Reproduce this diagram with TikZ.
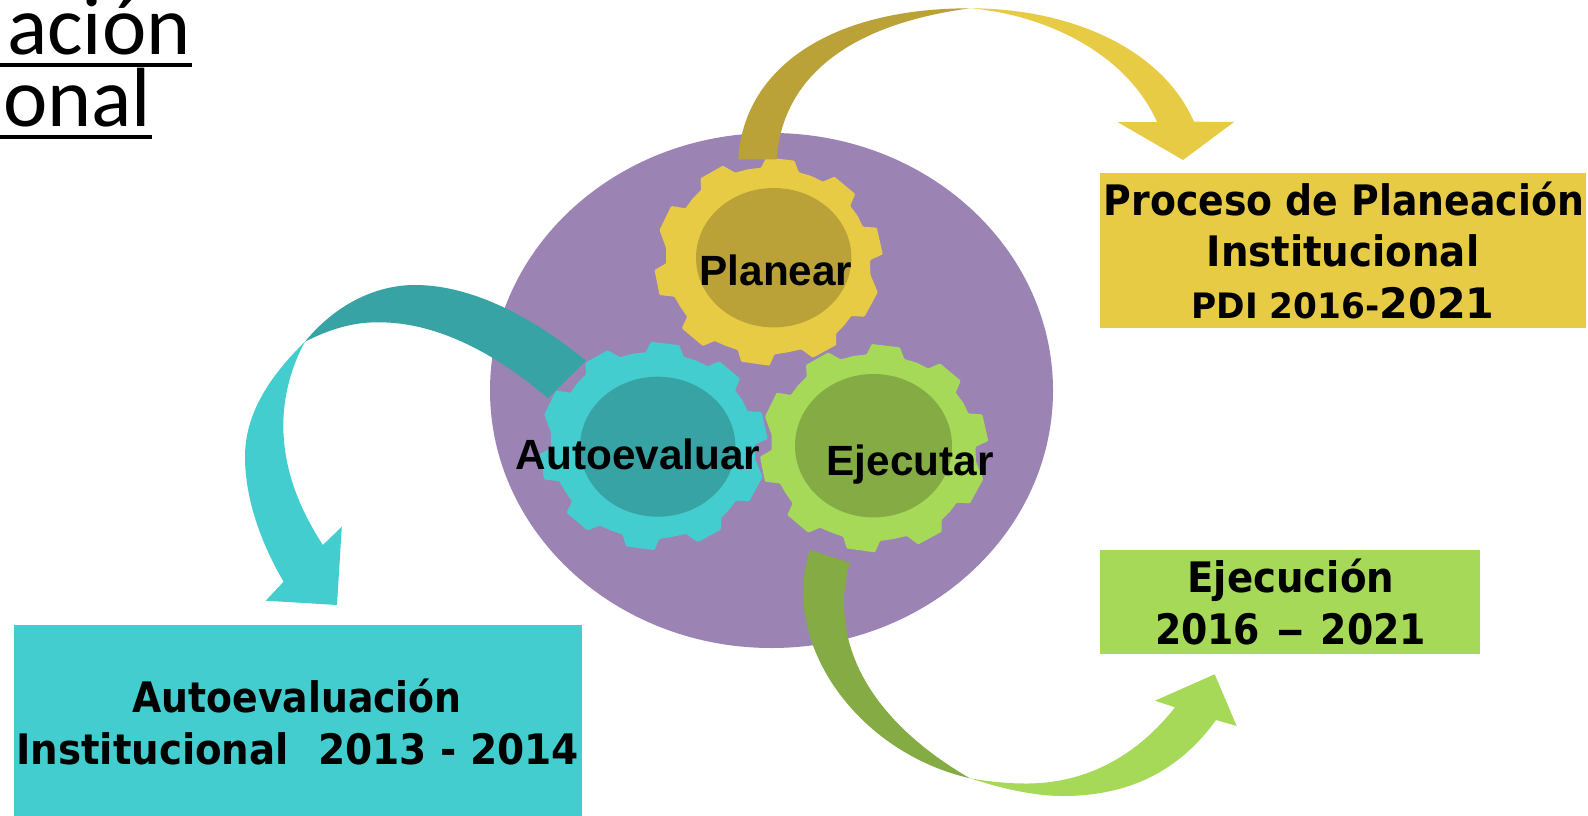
\documentclass[tikz,border=0pt]{standalone}
\usepackage{graphicx}
\usepackage{fontspec}
\setmainfont{Liberation Sans}
\newfontfamily\tahfont{DejaVu Sans Condensed}
\newfontfamily\calfont{Carlito}
\definecolor{purp}{HTML}{9B84B3}
\definecolor{yel}{HTML}{E8CB44}
\definecolor{dyel}{HTML}{BAA238}
\definecolor{tea}{HTML}{44CDCE}
\definecolor{dtea}{HTML}{38A3A5}
\definecolor{gre}{HTML}{A5D957}
\definecolor{dgre}{HTML}{85AB45}
\tikzset{
  gearlabel/.style={font=\fontsize{42.3}{42.3}\selectfont\bfseries,inner sep=0pt,anchor=base,text=black},
  boxtext/.style={font=\tahfont\fontsize{42}{51}\selectfont\bfseries,inner sep=0pt,anchor=base,text=black},
  headtext/.style={font=\calfont\fontsize{84}{84}\selectfont,inner sep=0pt,anchor=base west,text=black},
}
% \gearshape{cx}{cy}{colour}
\newcommand{\gearshape}[3]{%
  \fill[#3,shift={(#1,#2)},rounded corners=1pt]
  (-7.3,-93.3) -- (-2.3,-103.7) -- (26,-100.3) -- (30.3,-88.7) -- (42.7,-85)
  -- (54.3,-79.3) -- (66,-84.3) -- (86.7,-67) -- (81.7,-55) -- (89.3,-45)
  -- (94.3,-34.3) -- (108.3,-33.3) -- (114.3,-6.7) -- (101.7,-1) -- (101.7,6.7)
  -- (102,14) -- (109.3,31.3) -- (96,55.7) -- (82.7,55) -- (76,64)
  -- (67.7,72.3) -- (67.7,84) -- (44.3,96.7) -- (32.7,88.3) -- (19.3,91.3)
  -- (6,93.3) -- (1,104.7) -- (-27.3,100.7) -- (-30.7,89) -- (-42.3,85)
  -- (-54,80) -- (-65.7,85) -- (-86.7,67.3) -- (-81.3,55.7) -- (-88.3,45.7)
  -- (-94,35.7) -- (-109,34) -- (-114,9) -- (-102.3,2.3) -- (-102.3,-5.3)
  -- (-102.3,-12.7) -- (-109,-31) -- (-97.3,-55) -- (-83,-52.7) -- (-75.7,-62.7)
  -- (-67.3,-71) -- (-68,-82.7) -- (-45.7,-95.3) -- (-33.3,-88.3) -- (-20.7,-91.7)
  -- cycle;%
}
\begin{document}
\begin{tikzpicture}[x=1pt,y=-1pt]
\useasboundingbox (0,0) rectangle (1588,816);
\clip (0,0) rectangle (1588,816);
\fill[white] (0,0) rectangle (1588,816);
% heading
\node[headtext] (h1) at (7,55) {ación};
\node[headtext] (h2) at (3,126) {onal};
\fill[black] (0,63) rectangle (192,67);
\fill[black] (0,134.5) rectangle (152,138.5);
% disc
\fill[purp] (771.5,390.5) ellipse [x radius=281.5,y radius=257.5];
% gears
\gearshape{768.5}{261}{yel}
\fill[dyel] (773.7,257.7) ellipse [x radius=77.7,y radius=69.7];
\gearshape{653.3}{445.5}{tea}
\fill[dtea] (657.7,446.7) ellipse [x radius=77.7,y radius=70];
\gearshape{874}{447.7}{gre}
\fill[dgre] (873.5,445.7) ellipse [x radius=78.5,y radius=71.7];
% yellow arrow
\fill[dyel] (738.3,159.3) .. controls (743,72) and (825,8.3) .. (970,8.3)
  .. controls (845,25) and (782,80) .. (776.7,159.3) -- cycle;
\fill[yel] (970,8.3) .. controls (1065,8.3) and (1160,45) .. (1194,121.7)
  -- (1234,122) -- (1183,160) -- (1117.5,122) -- (1157,122)
  .. controls (1125,50) and (1040,14) .. (970,8.3) -- cycle;
% teal arrow
\fill[dtea] (586,360.7) .. controls (530,315) and (470,285) .. (415,285)
  .. controls (375,285) and (335,305) .. (305,341.7)
  .. controls (328,330) and (352,322) .. (378.3,322.3)
  .. controls (440,322) and (500,357) .. (547.9,398.3) -- cycle;
\fill[tea] (305,341.7) .. controls (268,378) and (245,415) .. (245,456.7)
  .. controls (245,500) and (262,545) .. (283.6,581.7)
  -- (265.7,600.7) -- (337,605) -- (341.8,526.7) -- (322.9,545)
  .. controls (300,510) and (283.3,470) .. (283.3,425)
  .. controls (283.3,395) and (292,365) .. (305,341.7) -- cycle;
% green arrow
\fill[dgre] (810,550) .. controls (805,565) and (803.3,580) .. (803.3,593.3)
  .. controls (803.3,670) and (870,755) .. (970,778.3)
  .. controls (895,735) and (844,675) .. (844,603.3)
  .. controls (844,590) and (846,575) .. (850,562.7) -- cycle;
\fill[gre] (970,778.3) .. controls (985,783) and (1025,796) .. (1063,796)
  .. controls (1130,796) and (1180,770) .. (1216,720)
  -- (1236.7,726) -- (1214.7,674.3) -- (1155,700.7) -- (1175,707.3)
  .. controls (1140,752) and (1090,784) .. (1025,783.5)
  .. controls (1005,783.5) and (985,781) .. (970,778.3) -- cycle;
% boxes
\fill[yel] (1100,173) rectangle (1586,328);
\fill[gre] (1100,550) rectangle (1480,654);
\fill[tea] (14,625) rectangle (582,816);
% gear labels
\node[gearlabel] (planear) at (776,285) {Planear};
\node[gearlabel] (auto) at (638,469) {Autoevaluar};
\node[gearlabel] (ejec) at (910,475) {Ejecutar};
% box texts
\node[boxtext] (t1) at (1344,215.7) {Proceso de Planeación};
\node[boxtext] (t2) at (1343,266.7) {\scalebox{1.025}[1]{Institucional}};
\node[boxtext] (t3) at (1343,318.3) {\scalebox{1.09}[1]{{\fontsize{35}{40}\selectfont PDI 2016-}2021}};
\node[boxtext] (t4) at (1290.8,592.7) {\scalebox{1.025}[1]{Ejecución}};
\node[boxtext] (t5) at (1290.5,644) {2016\hspace{3pt} \scalebox{1.5}[1]{–}\hspace{3pt} 2021};
\node[boxtext] (t6) at (297,712.7) {Autoevaluación};
\node[boxtext] (t7) at (297.6,764) {\scalebox{1.025}[1]{Institucional}\hspace{16pt} \scalebox{1.034}[1]{2013 - 2014}};
\end{tikzpicture}
\end{document}
